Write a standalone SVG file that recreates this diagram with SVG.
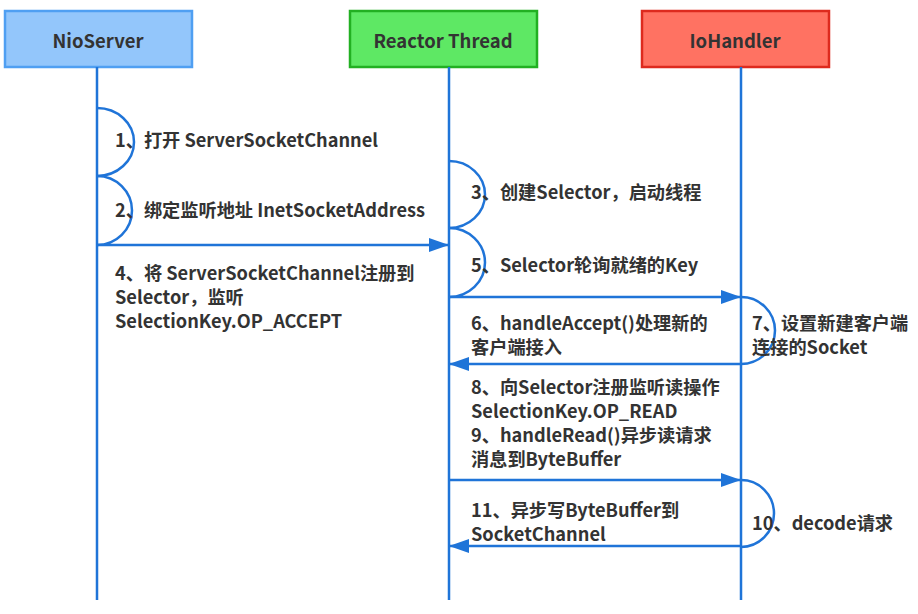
<svg xmlns="http://www.w3.org/2000/svg" width="918" height="614" viewBox="0 0 918 614">
<style>
.hdr{stroke-width:2.5}
.htxt{font-family:"Noto Sans CJK SC","Liberation Sans",sans-serif;font-weight:bold;font-size:18.5px;fill:#333;text-anchor:middle}
.life{stroke:#1f74d8;stroke-width:2.5;fill:none}
.msg{stroke:#1f74d8;stroke-width:2.5;fill:none}
.arc{stroke:#1f74d8;stroke-width:2.5;fill:none}
.lbl{font-family:"Noto Sans CJK SC","Liberation Sans",sans-serif;font-weight:bold;font-size:18.2px;fill:#333}
</style>
<defs>
<marker id="head" viewBox="0 0 20 14" refX="20" refY="7" markerWidth="20" markerHeight="14" markerUnits="userSpaceOnUse" orient="auto">
<path d="M0,0 L20,7 L0,14 z" fill="#1f74d8"/>
</marker>
</defs>
<rect width="918" height="614" fill="#ffffff"/>

<g id="nioserver">
<rect class="hdr" x="5" y="11" width="187" height="56" fill="#93c6fb" stroke="#4f9ff2"/>
<text class="htxt" x="98" y="48">NioServer</text>
<line class="life" x1="97" y1="67" x2="97" y2="600"/>
</g>
<g id="reactor">
<rect class="hdr" x="350" y="11" width="187" height="56" fill="#5ee864" stroke="#22b022"/>
<text class="htxt" x="443" y="48">Reactor Thread</text>
<line class="life" x1="449" y1="67" x2="449" y2="600"/>
</g>
<g id="iohandler">
<rect class="hdr" x="642" y="11" width="187" height="56" fill="#ff7262" stroke="#dd2a1e"/>
<text class="htxt" x="735" y="48">IoHandler</text>
<line class="life" x1="741" y1="67" x2="741" y2="600"/>
</g>

<g id="connectors">
<path class="arc" d="M97,108 A37,34 0 0 1 97,176"/>
<path class="arc" d="M97,176 A35,34.5 0 0 1 97,245"/>
<line class="msg" x1="97" y1="245" x2="449" y2="245" marker-end="url(#head)"/>
<path class="arc" d="M449,161 A36,33.5 0 0 1 449,228"/>
<path class="arc" d="M449,228 A36,34.5 0 0 1 449,297"/>
<line class="msg" x1="449" y1="297" x2="741" y2="297" marker-end="url(#head)"/>
<path class="arc" d="M741,297 A34,33.5 0 0 1 741,364"/>
<line class="msg" x1="741" y1="364" x2="449" y2="364" marker-end="url(#head)"/>
<line class="msg" x1="449" y1="480" x2="741" y2="480" marker-end="url(#head)"/>
<path class="arc" d="M741,480 A33,33.5 0 0 1 741,547"/>
<line class="msg" x1="741" y1="546" x2="449" y2="546" marker-end="url(#head)"/>
</g>

<g id="labels">
<text class="lbl" x="115" y="147">1、打开 ServerSocketChannel</text>
<text class="lbl" x="115" y="217">2、绑定监听地址 InetSocketAddress</text>
<text class="lbl" x="115" y="280">4、将 ServerSocketChannel注册到</text>
<text class="lbl" x="115" y="304">Selector，监听</text>
<text class="lbl" x="115" y="328">SelectionKey.OP_ACCEPT</text>
<text class="lbl" x="471" y="199">3、创建Selector，启动线程</text>
<text class="lbl" x="471" y="272">5、Selector轮询就绪的Key</text>
<text class="lbl" x="471" y="330">6、handleAccept()处理新的</text>
<text class="lbl" x="471" y="354">客户端接入</text>
<text class="lbl" x="752" y="330">7、设置新建客户端</text>
<text class="lbl" x="752" y="354">连接的Socket</text>
<text class="lbl" x="471" y="394">8、向Selector注册监听读操作</text>
<text class="lbl" x="471" y="418">SelectionKey.OP_READ</text>
<text class="lbl" x="471" y="442">9、handleRead()异步读请求</text>
<text class="lbl" x="471" y="466">消息到ByteBuffer</text>
<text class="lbl" x="471" y="517">11、异步写ByteBuffer到</text>
<text class="lbl" x="471" y="541">SocketChannel</text>
<text class="lbl" x="752" y="530">10、decode请求</text>
</g>
</svg>
